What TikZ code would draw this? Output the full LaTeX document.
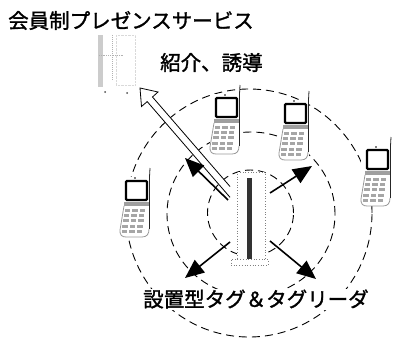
\documentclass[tikz,border=0pt]{standalone}
\usepackage{fontspec}
\newfontfamily\jpfont[FakeBold=1.4]{Noto Sans CJK JP}
\usetikzlibrary{arrows.meta}
\begin{document}
\begin{tikzpicture}[x=1pt,y=-1pt,
  ring/.style={dash pattern=on 8pt off 5pt, line width=0.9pt},
  wave/.style={line width=1.6pt, -{Triangle[length=19pt,width=16pt]}},
  jptext/.style={font=\jpfont\fontsize{20.5pt}{24pt}\selectfont, inner sep=1pt, anchor=west},
  hollow/.style={line width=0.8pt, fill=white},
  tagbox/.style={draw=gray, dotted, line width=0.7pt, fill=white, inner sep=0pt},
  phone/.pic={
    % housing backdrop
    \fill[white] (-6,-4) rectangle (24,56);
    % keypad outline
    \draw[gray!80, line width=0.8pt] (-2,25) -- (-6,49)
      .. controls (-6.5,54) and (-4,56) .. (0,56) -- (16,56)
      .. controls (21,56) and (23,53) .. (23,48);
    % keys
    \foreach \i in {0,1,2} \foreach \j in {0,...,4}
      \fill[gray!70] (-1.5+\i*7.5-\j*0.7, 28+\j*5.2) rectangle ++(5.5,3);
    % hinge band
    \fill[gray!75] (-2,21) rectangle (23,25);
    % right edge and antenna
    \draw[black!85, line width=1pt] (23,-4) -- (23,48);
    \draw[black!85, line width=0.8pt] (23.5,-4) -- (24,-13);
    % screen
    \draw[line width=2.2pt, fill=white, rounded corners=1pt] (0,0) rectangle (21,19);
    \fill (9,-3) circle (0.9pt);
  }
]
\useasboundingbox (0,0) rectangle (393,345);

% coverage rings around the reader
\draw[ring] (249,213) ellipse [x radius=123pt, y radius=124pt];
\draw[ring] (251,214) ellipse [x radius=84pt, y radius=82pt];
\draw[ring] (250.5,213) circle [radius=43pt];

% caption under the reader
\node[jptext, fill=white] (reader) at (142,299) {設置型タグ＆タグリーダ};

% referral arrow toward the service
\draw[hollow] (230,186.5) -- (152.5,97) -- (158,92) -- (140,88)
  -- (141.5,106.5) -- (147.2,101.6) -- (230,197.3);

% tag and reader
\node[tagbox, minimum width=28pt, minimum height=88pt] (tag) at (251,216) {};
\fill[black!80] (247,178) rectangle (252,260);
\node[tagbox, minimum width=37pt, minimum height=6pt] (base) at (249.5,262) {};

% radio waves
\coordinate (ulS) at (228,200); \coordinate (ulT) at (185,158);
\coordinate (urS) at (270,193); \coordinate (urT) at (312,166);
\coordinate (llS) at (230,242); \coordinate (llT) at (185,278);
\coordinate (lrS) at (270,241); \coordinate (lrT) at (316,279);
\draw[wave] (ulS) -- (ulT);
\draw[wave] (urS) -- (urT);
\draw[wave] (llS) -- (llT);
\draw[wave] (lrS) -- (lrT);

% handsets
\pic (p2) at (216,98) {phone};
\pic (p3) at (285,104) {phone};
\pic (p4) at (367,150) {phone};
\pic (p5) at (126,181) {phone};

% faint service terminal
\fill[gray!40] (98,35) rectangle (103,87);
\draw[gray!60, densely dotted, line width=1pt] (112,35) -- (112,80);
\draw[gray!60, densely dotted, line width=0.8pt] (99,55) -- (123,55);
\draw[gray!30, densely dotted] (116,35) rectangle (135,85);
\fill[black!70] (105,92) circle (1pt);
\fill[black!70] (127,93) circle (1pt);

% labels
\node[jptext] (svc) at (7,20.5) {会員制プレゼンスサービス};
\node[jptext] (intro) at (159,62.5) {紹介、誘導};
\end{tikzpicture}
\end{document}
